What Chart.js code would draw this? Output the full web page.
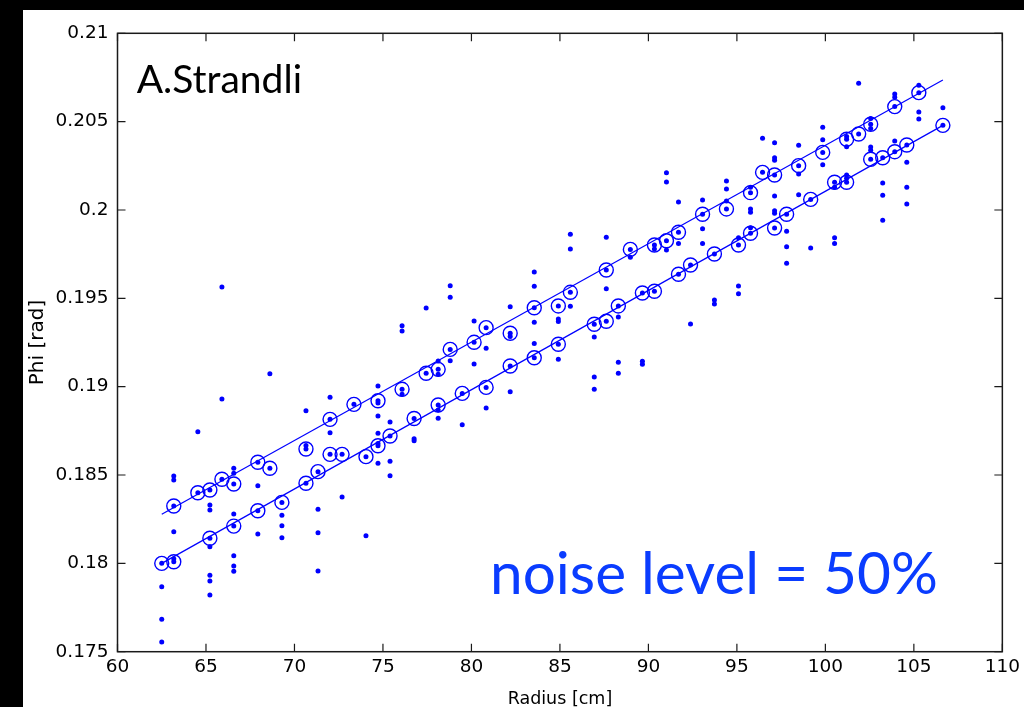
<!DOCTYPE html>
<html>
<head>
<meta charset="utf-8">
<script src="https://cdn.jsdelivr.net/npm/chart.js@4.4.1/dist/chart.umd.min.js"></script>
<style>
  html, body { margin: 0; padding: 0; background: #000; }
  #wrap { width: 1024px; height: 707px; }
</style>
</head>
<body>
<div id="wrap"><canvas id="hits" width="1024" height="707"></canvas></div>
<script>
// hits picked up by the track finder, [radius cm, phi rad]
const upperTrack = [
  [63.18, 0.18325], [64.54, 0.18400], [65.22, 0.18415], [65.90, 0.18476], [66.57, 0.18449],
  [67.93, 0.18572], [68.61, 0.18538], [70.65, 0.18647], [72.01, 0.18815], [73.36, 0.18900],
  [74.72, 0.18920], [76.08, 0.18985], [77.44, 0.19076], [78.12, 0.19098], [78.80, 0.19211],
  [80.15, 0.19251], [80.83, 0.19334], [82.19, 0.19302], [83.55, 0.19447], [84.91, 0.19457],
  [85.59, 0.19534], [87.62, 0.19660], [88.98, 0.19777], [90.34, 0.19802], [91.02, 0.19826],
  [91.70, 0.19874], [93.06, 0.19976], [94.41, 0.20006], [95.77, 0.20098], [96.45, 0.20213],
  [97.13, 0.20198], [98.49, 0.20251], [99.85, 0.20326], [101.20, 0.20400], [101.88, 0.20430],
  [102.56, 0.20485], [103.92, 0.20585], [105.28, 0.20664]
];
const lowerTrack = [
  [62.50, 0.18000], [63.18, 0.18009], [65.22, 0.18142], [66.57, 0.18211], [67.93, 0.18298],
  [69.29, 0.18345], [70.65, 0.18453], [71.33, 0.18519], [72.01, 0.18617], [72.69, 0.18617],
  [74.04, 0.18604], [74.72, 0.18666], [75.40, 0.18721], [76.76, 0.18820], [78.12, 0.18896],
  [79.48, 0.18962], [80.83, 0.18996], [82.19, 0.19117], [83.55, 0.19164], [84.91, 0.19240],
  [86.94, 0.19353], [87.62, 0.19370], [88.30, 0.19457], [89.66, 0.19530], [90.34, 0.19540],
  [91.70, 0.19636], [92.38, 0.19689], [93.73, 0.19751], [95.09, 0.19802], [95.77, 0.19868],
  [97.13, 0.19898], [97.81, 0.19976], [99.17, 0.20060], [100.52, 0.20157], [101.20, 0.20157],
  [102.56, 0.20287], [103.24, 0.20296], [103.92, 0.20330], [104.60, 0.20368], [106.64, 0.20479]
];
// noise hits left over
const noiseHits = [
  [64.54, 0.18745], [72.01, 0.18739], [70.65, 0.18667], [66.57, 0.18538], [66.57, 0.18510],
  [63.18, 0.18494], [63.18, 0.18472], [67.93, 0.18439], [72.69, 0.18375], [65.22, 0.18330],
  [65.22, 0.18302], [71.33, 0.18306], [66.57, 0.18279], [69.29, 0.18272], [69.29, 0.18213],
  [69.29, 0.18145], [63.18, 0.18179], [71.33, 0.18173], [67.93, 0.18166], [65.22, 0.18094],
  [66.57, 0.18043], [66.57, 0.17985], [66.57, 0.17955], [63.18, 0.18026], [71.33, 0.17957],
  [65.22, 0.17932], [65.22, 0.17900], [62.50, 0.17868], [65.22, 0.17821], [62.50, 0.17683],
  [62.50, 0.17555], [68.61, 0.19073], [65.90, 0.18930], [72.01, 0.18940], [70.65, 0.18864],
  [74.04, 0.18156], [65.90, 0.19564],
  [78.80, 0.19506], [78.80, 0.19571], [77.44, 0.19445], [82.19, 0.19453], [83.55, 0.19649],
  [83.55, 0.19568], [76.08, 0.19345], [76.08, 0.19315], [80.15, 0.19372], [83.55, 0.19364],
  [84.91, 0.19383], [84.91, 0.19369], [82.19, 0.19284], [80.83, 0.19217], [83.55, 0.19245],
  [78.12, 0.19145], [78.80, 0.19147], [80.15, 0.19128], [78.12, 0.19070], [84.91, 0.19155],
  [82.19, 0.18971], [76.08, 0.18957], [74.72, 0.19004], [74.72, 0.18907], [78.12, 0.18868],
  [78.12, 0.18821], [80.83, 0.18879], [74.72, 0.18834], [75.40, 0.18800], [79.48, 0.18785],
  [74.72, 0.18736], [76.76, 0.18705], [76.76, 0.18694], [74.72, 0.18678], [74.72, 0.18566],
  [75.40, 0.18578], [75.40, 0.18496],
  [91.02, 0.20158], [91.02, 0.20211], [94.41, 0.20164], [94.41, 0.20119], [95.77, 0.20128],
  [91.70, 0.20045], [93.06, 0.20057], [94.41, 0.20051], [95.77, 0.20006], [95.77, 0.19987],
  [93.06, 0.19894], [95.77, 0.19900], [85.59, 0.19862], [87.62, 0.19845], [91.70, 0.19811],
  [93.06, 0.19811], [95.09, 0.19843], [90.34, 0.19779], [91.02, 0.19773], [85.59, 0.19779],
  [88.98, 0.19732], [95.09, 0.19570], [95.09, 0.19526], [87.62, 0.19554], [93.73, 0.19490],
  [93.73, 0.19468], [85.59, 0.19455], [88.30, 0.19394], [92.38, 0.19355], [86.94, 0.19281],
  [88.30, 0.19138], [89.66, 0.19144], [89.66, 0.19127], [88.30, 0.19076], [86.94, 0.19055],
  [86.94, 0.18985],
  [101.88, 0.20717], [105.28, 0.20706], [103.92, 0.20656], [103.92, 0.20638], [106.64, 0.20579],
  [105.28, 0.20555], [105.28, 0.20515], [102.56, 0.20518], [102.56, 0.20461], [99.85, 0.20468],
  [101.20, 0.20416], [101.20, 0.20358], [96.45, 0.20406], [97.13, 0.20381], [99.85, 0.20398],
  [98.49, 0.20366], [103.92, 0.20390], [102.56, 0.20356], [102.56, 0.20338], [97.13, 0.20296],
  [97.13, 0.20281], [104.60, 0.20270], [99.85, 0.20256], [98.49, 0.20204], [101.20, 0.20198],
  [101.20, 0.20179], [100.52, 0.20128], [103.24, 0.20153], [104.60, 0.20128], [97.13, 0.20079],
  [98.49, 0.20086], [103.24, 0.20083], [104.60, 0.20034], [97.13, 0.19996], [97.13, 0.19981],
  [103.24, 0.19942], [97.81, 0.19879], [100.52, 0.19843], [100.52, 0.19811], [97.81, 0.19792],
  [99.17, 0.19785], [97.81, 0.19698]
];
// fitted straight tracks, end points
const fitR = [62.50, 106.64];
const upperFit = [0.18278, 0.20736];
const lowerFit = [0.18000, 0.20479];

const xTicks = [60, 65, 70, 75, 80, 85, 90, 95, 100, 105, 110];
const yTicks = [0.175, 0.18, 0.185, 0.19, 0.195, 0.2, 0.205, 0.21];

const BLUE = '#0000ff';
const toXY = ([x, y]) => ({ x, y });
const tickFont = { family: 'DejaVu Sans', size: 18.5 };

// frame, inward tick marks on all four sides, and the two captions
const framePlugin = {
  id: 'frame',
  beforeDraw(chart) {
    const ctx = chart.ctx;
    ctx.save();
    ctx.fillStyle = '#000';
    ctx.fillRect(0, 0, chart.width, chart.height);
    ctx.fillStyle = '#fff';
    ctx.fillRect(23, 10, chart.width - 23, chart.height - 10);
    ctx.restore();
  },
  afterDraw(chart) {
    const { ctx, chartArea: a, scales } = chart;
    const len = 8;
    ctx.save();
    ctx.strokeStyle = '#1a1a1a';
    ctx.lineWidth = 1.5;
    ctx.strokeRect(a.left, a.top, a.right - a.left, a.bottom - a.top);
    ctx.lineWidth = 1.2;
    ctx.beginPath();
    xTicks.forEach(v => {
      const px = scales.x.getPixelForValue(v);
      ctx.moveTo(px, a.bottom); ctx.lineTo(px, a.bottom - len);
      ctx.moveTo(px, a.top); ctx.lineTo(px, a.top + len);
    });
    yTicks.forEach(v => {
      const py = scales.y.getPixelForValue(v);
      ctx.moveTo(a.left, py); ctx.lineTo(a.left + len, py);
      ctx.moveTo(a.right, py); ctx.lineTo(a.right - len, py);
    });
    ctx.stroke();

    ctx.textBaseline = 'alphabetic';
    ctx.textAlign = 'left';
    ctx.fillStyle = '#000';
    ctx.font = '39px Lato';
    ctx.fillText('A.Strandli', 136.7, 93.3);
    ctx.fillStyle = '#0a3cff';
    ctx.font = '58.5px Lato';
    ctx.fillText('noise level = 50%', 490, 594);
    ctx.restore();
  }
};

new Chart(document.getElementById('hits'), {
  type: 'scatter',
  data: {
    datasets: [
      {
        label: 'hits',
        data: noiseHits.concat(upperTrack, lowerTrack).map(toXY),
        pointRadius: 2.5,
        pointBorderWidth: 0,
        pointBackgroundColor: BLUE
      },
      {
        label: 'track hits',
        data: upperTrack.concat(lowerTrack).map(toXY),
        pointRadius: 7,
        pointBorderWidth: 1.4,
        pointBorderColor: BLUE,
        pointBackgroundColor: 'rgba(0,0,0,0)'
      },
      {
        label: 'fit 1',
        data: fitR.map((r, i) => ({ x: r, y: upperFit[i] })),
        showLine: true,
        borderColor: BLUE,
        borderWidth: 1.2,
        pointRadius: 0
      },
      {
        label: 'fit 2',
        data: fitR.map((r, i) => ({ x: r, y: lowerFit[i] })),
        showLine: true,
        borderColor: BLUE,
        borderWidth: 1.2,
        pointRadius: 0
      }
    ]
  },
  options: {
    responsive: false,
    animation: false,
    events: [],
    layout: { padding: { left: 23, top: 33.3, right: 21.5, bottom: 0 } },
    plugins: { legend: { display: false }, tooltip: { enabled: false } },
    scales: {
      x: {
        type: 'linear',
        min: 60, max: 110,
        afterBuildTicks: s => { s.ticks = xTicks.map(value => ({ value })); },
        afterFit: s => { s.height = 55.3; },
        grid: { display: false, drawTicks: false },
        border: { display: false },
        ticks: { color: '#000', font: tickFont, padding: 4, maxRotation: 0, autoSkip: false },
        title: {
          display: true, text: 'Radius [cm]', color: '#000',
          font: { family: 'DejaVu Sans', size: 17.5 }, padding: { top: 0, bottom: -3 }
        }
      },
      y: {
        type: 'linear',
        min: 0.175, max: 0.21,
        afterBuildTicks: s => { s.ticks = yTicks.map(value => ({ value })); },
        afterFit: s => { s.width = 94.5; },
        grid: { display: false, drawTicks: false },
        border: { display: false },
        ticks: {
          color: '#000', font: tickFont, padding: 9, autoSkip: false,
          callback: v => String(+v.toFixed(3))
        },
        title: {
          display: true, text: 'Phi [rad]', color: '#000',
          font: { family: 'DejaVu Sans', size: 20 }, padding: { top: 3, bottom: 0 }
        }
      }
    }
  },
  plugins: [framePlugin]
});
</script>
</body>
</html>
